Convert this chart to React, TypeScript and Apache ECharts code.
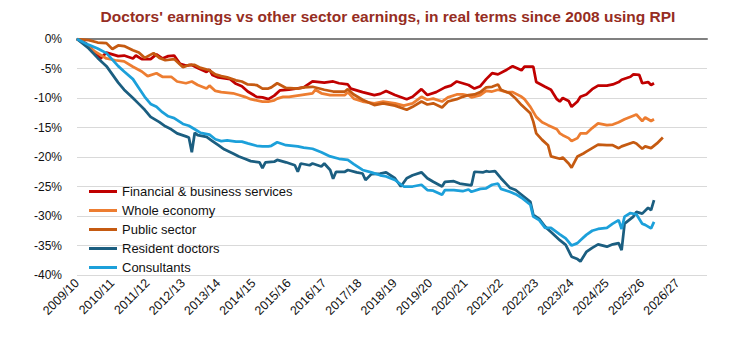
import React, { useEffect, useRef } from "react";
import * as echarts from "echarts";

// x = months since April 2009 (start of 2009/10); y = % change in real earnings since 2008
const fyLabels = [
  "2009/10", "2010/11", "2011/12", "2012/13", "2013/14", "2014/15", "2015/16", "2016/17", "2017/18",
  "2018/19", "2019/20", "2020/21", "2021/22", "2022/23", "2023/24", "2024/25", "2025/26", "2026/27",
];

const seriesNames = [
  "Financial & business services",
  "Whole economy",
  "Public sector",
  "Resident doctors",
  "Consultants",
];

const seriesColors = ["#C00000", "#ED7D31", "#C55A11", "#1B5E80", "#1CA0DA"];

const financialServices: number[][] = [
  [0, 0], [3, -0.7], [6, -2.2], [8, -3.3], [10, -2.3], [12, -2.6], [14, -2.9], [16, -2.8], [19, -3.3], [20, -2.8],
  [22, -3.4], [25, -3.4], [27, -2.6], [29, -3.3], [31, -2.9], [33, -2.8], [35, -4.2], [37, -4.5], [39, -4.4], [41, -4.9],
  [44, -5.6], [45, -5.2], [46, -6.1], [48, -6.5], [52, -6.8], [54, -7.6], [56, -8.0], [58, -8.9], [61, -9.8], [63, -9.9],
  [65, -10.2], [67, -9.6], [69, -8.7], [72, -8.6], [77, -8.2], [80, -7.2], [84, -7.4], [87, -7.2], [89, -7.5], [92, -7.7],
  [93, -8.4], [97, -9.0], [101, -9.5], [103, -9.3], [105, -8.8], [108, -9.5], [112, -10.2], [114, -9.8], [117, -8.5],
  [119, -9.5], [122, -9.0], [125, -8.2], [127, -7.9], [129, -7.2], [131, -7.5], [133, -7.8], [135, -8.4], [137, -8.0],
  [139, -6.8], [141, -5.8], [143, -6.0], [146, -5.2], [148, -4.6], [151, -5.3], [152, -4.7], [155, -4.7], [156, -7.3],
  [159, -8.1], [161, -8.6], [163, -10.2], [164, -10.6], [165, -10.0], [167, -10.5], [168, -11.5], [170, -10.6],
  [171, -9.8], [173, -9.4], [175, -8.5], [177, -7.9], [180, -7.9], [182, -7.7], [184, -7.3], [185, -6.9], [188, -6.4],
  [189, -6.0], [191, -6.1], [192, -7.5], [194, -7.3], [195, -7.8], [196, -7.5],
];

const wholeEconomy: number[][] = [
  [0, 0], [3, -1.0], [6, -2.1], [10, -3.3], [13, -3.6], [16, -3.8], [19, -4.7], [22, -5.5], [24, -6.3], [27, -5.8],
  [29, -6.4], [32, -6.4], [34, -7.2], [37, -7.5], [39, -7.2], [41, -7.8], [44, -8.4], [45, -7.9], [47, -8.8], [49, -9.0],
  [53, -9.2], [55, -9.5], [57, -9.8], [59, -10.2], [63, -10.6], [65, -10.6], [67, -10.4], [68, -10.1], [70, -9.8],
  [72, -9.8], [76, -9.5], [80, -9.2], [81, -8.6], [83, -9.2], [86, -9.5], [91, -9.5], [92, -9.0], [94, -10.1], [97, -10.6],
  [101, -10.9], [104, -10.6], [108, -10.9], [111, -11.3], [114, -10.9], [117, -9.8], [119, -10.3], [121, -10.1],
  [124, -10.6], [126, -9.9], [129, -9.4], [131, -9.4], [133, -9.6], [134, -9.9], [137, -9.5], [139, -8.8], [141, -8.9],
  [143, -8.6], [146, -9.0], [148, -9.0], [151, -9.8], [152, -10.2], [154, -11.5], [156, -13.2], [158, -14.1], [160, -14.6],
  [163, -15.3], [164, -16.0], [165, -16.3], [167, -16.8], [168, -17.3], [170, -16.8], [171, -16.0], [173, -16.0],
  [175, -15.1], [177, -14.3], [180, -14.6], [182, -14.5], [184, -14.1], [186, -13.6], [189, -13.0], [190, -12.8],
  [192, -13.9], [193, -13.3], [195, -13.9], [196, -13.6],
];

const publicSector: number[][] = [
  [0, 0], [4, -0.2], [7, -0.6], [10, -0.7], [12, -1.7], [14, -1.1], [16, -1.2], [19, -1.9], [21, -2.3], [23, -3.2],
  [26, -2.4], [28, -3.2], [30, -3.6], [33, -3.4], [36, -4.8], [38, -4.4], [40, -4.4], [42, -4.9], [45, -5.3], [47, -6.0],
  [49, -6.3], [51, -6.5], [54, -7.0], [56, -7.2], [58, -7.7], [61, -7.8], [63, -8.4], [65, -8.4], [66, -8.2], [68, -7.5],
  [71, -8.3], [75, -8.4], [77, -8.2], [80, -8.1], [84, -8.6], [87, -8.9], [91, -8.9], [92, -8.5], [94, -9.4], [97, -10.3],
  [101, -11.2], [104, -10.9], [108, -11.3], [112, -12.0], [114, -11.5], [117, -10.6], [119, -11.1], [121, -10.9],
  [124, -11.6], [126, -10.6], [129, -10.2], [131, -9.8], [133, -9.5], [135, -9.4], [137, -9.0], [139, -8.2], [141, -8.1],
  [143, -7.7], [144, -8.6], [147, -9.2], [149, -10.1], [151, -11.2], [154, -12.6], [155, -14.0], [156, -16.0],
  [158, -17.1], [160, -18.0], [161, -19.9], [164, -20.3], [165, -20.1], [167, -21.1], [168, -21.8], [170, -19.9],
  [172, -19.4], [173, -19.1], [175, -18.5], [177, -17.9], [180, -18.0], [182, -18.0], [184, -18.5], [185, -18.2],
  [189, -17.5], [190, -17.7], [192, -18.6], [193, -18.2], [195, -18.5], [197, -17.7], [199, -16.7],
];

const residentDoctors: number[][] = [
  [0, 0], [4, -1.6], [7, -3.2], [10, -4.6], [12, -6.0], [14, -7.4], [16, -8.6], [19, -10.0], [21, -11.0], [23, -12.0],
  [25, -13.2], [28, -14.1], [30, -14.8], [32, -15.3], [34, -16.0], [37, -16.5], [38, -16.7], [39, -19.2], [40, -15.9],
  [41, -16.3], [44, -16.6], [46, -17.3], [48, -18.0], [50, -18.7], [53, -19.4], [55, -19.9], [57, -20.3], [59, -20.7],
  [62, -20.9], [63, -21.9], [64, -20.9], [67, -20.8], [68, -20.5], [71, -20.9], [74, -21.4], [75, -22.5], [76, -21.1],
  [79, -21.4], [80, -21.1], [83, -21.6], [84, -21.1], [86, -22.2], [87, -23.7], [88, -22.5], [91, -22.5], [92, -22.2],
  [95, -22.6], [97, -22.8], [98, -23.9], [100, -22.9], [103, -22.8], [105, -22.6], [108, -23.6], [110, -25.0],
  [112, -23.6], [114, -23.1], [117, -22.6], [119, -23.6], [121, -24.2], [124, -25.0], [125, -24.2], [128, -24.1],
  [130, -24.5], [134, -24.8], [135, -22.5], [138, -22.6], [139, -22.4], [140, -22.5], [142, -22.4], [144, -23.6],
  [147, -25.2], [149, -25.6], [151, -26.4], [154, -27.6], [155, -29.8], [157, -30.5], [159, -31.8], [161, -32.7],
  [164, -34.1], [166, -34.9], [168, -36.9], [170, -37.3], [171, -37.7], [173, -36.1], [175, -35.4], [177, -34.8],
  [180, -35.2], [182, -34.8], [184, -34.6], [185, -35.8], [186, -31.3], [189, -30.1], [190, -29.3], [192, -29.6],
  [194, -28.6], [195, -29.0], [196, -27.3],
];

const consultants: number[][] = [
  [0, 0], [4, -1.0], [7, -1.6], [10, -2.4], [12, -3.5], [14, -4.6], [16, -5.5], [19, -6.8], [21, -8.3], [23, -9.8],
  [25, -11.0], [27, -11.5], [29, -12.4], [31, -13.1], [33, -13.4], [36, -14.4], [38, -14.7], [40, -15.3], [42, -15.9],
  [45, -16.2], [47, -17.0], [49, -17.3], [51, -17.2], [54, -17.4], [56, -17.4], [58, -17.7], [61, -18.1], [63, -18.2],
  [65, -18.2], [66, -18.1], [68, -17.5], [71, -18.0], [75, -18.2], [77, -18.4], [80, -18.6], [83, -19.2], [86, -19.9],
  [89, -20.3], [92, -20.5], [94, -21.2], [97, -22.2], [100, -22.6], [103, -23.1], [105, -23.3], [108, -23.9],
  [111, -25.0], [114, -25.0], [117, -24.7], [119, -25.6], [121, -25.7], [124, -26.4], [125, -25.6], [128, -25.6],
  [131, -25.8], [133, -25.5], [134, -25.9], [137, -25.4], [139, -25.3], [141, -24.7], [143, -24.5], [144, -25.4],
  [147, -25.9], [149, -26.3], [151, -26.9], [154, -28.1], [155, -30.1], [157, -30.7], [159, -32.0], [161, -32.0],
  [164, -33.1], [166, -33.8], [168, -35.0], [170, -34.6], [171, -34.1], [173, -33.2], [175, -32.5], [177, -32.2],
  [180, -32.0], [182, -31.3], [184, -30.7], [185, -32.2], [186, -30.1], [188, -29.5], [190, -29.7], [192, -31.3],
  [193, -31.5], [195, -32.1], [196, -31.0],
];

const seriesData = [financialServices, wholeEconomy, publicSector, residentDoctors, consultants];

const X_MAX = 214;
const FONT = "'Liberation Sans', Arial, sans-serif";

export default function App() {
  const ref = useRef<HTMLDivElement>(null);

  useEffect(() => {
    if (!ref.current) return;
    const chart = echarts.init(ref.current, undefined, { renderer: "svg" });
    chart.setOption({
      animation: false,
      backgroundColor: "#ffffff",
      textStyle: { fontFamily: FONT },
      title: {
        text: "Doctors' earnings vs other sector earnings, in real terms since 2008 using RPI",
        left: 388,
        top: 8,
        textAlign: "center",
        padding: 0,
        textStyle: { color: "#962D22", fontSize: 15.5, fontWeight: "bold", fontFamily: FONT },
      },
      legend: {
        orient: "vertical",
        left: 89,
        top: 185,
        padding: 0,
        itemWidth: 28,
        itemHeight: 3,
        itemGap: 6,
        icon: "rect",
        data: seriesNames,
        textStyle: { color: "#111", fontSize: 13, fontFamily: FONT },
      },
      grid: { left: 77, right: 44, top: 39, bottom: 74, containLabel: false },
      xAxis: [
        {
          type: "value",
          min: 0,
          max: X_MAX,
          interval: 12,
          position: "bottom",
          axisLine: { show: false },
          axisTick: { show: false },
          splitLine: { show: false },
          axisLabel: {
            rotate: 45,
            margin: 6,
            color: "#111",
            fontSize: 12.5,
            fontFamily: FONT,
            showMaxLabel: false,
            formatter: (v: number) => (v % 12 === 0 ? fyLabels[v / 12] ?? "" : ""),
          },
        },
        {
          type: "value",
          min: 0,
          max: X_MAX,
          position: "top",
          axisLine: { show: true, lineStyle: { color: "#808080", width: 2 } },
          axisTick: { show: false },
          axisLabel: { show: false },
          splitLine: { show: false },
        },
      ],
      yAxis: {
        type: "value",
        min: -40,
        max: 0,
        interval: 5,
        axisLine: { show: false },
        axisTick: { show: false },
        splitLine: { lineStyle: { color: "#D9D9D9", width: 1 } },
        axisLabel: {
          margin: 15,
          color: "#111",
          fontSize: 12,
          fontFamily: FONT,
          formatter: (v: number) => `${v}%`,
        },
      },
      series: seriesNames.map((name, i) => ({
        name,
        type: "line",
        xAxisIndex: 0,
        data: seriesData[i],
        showSymbol: false,
        symbol: "none",
        color: seriesColors[i],
        lineStyle: { color: seriesColors[i], width: 2.75 },
      })),
    });
    return () => chart.dispose();
  }, []);

  return (
    <div
      ref={ref}
      style={{ position: "fixed", left: 0, top: 0, width: 751, height: 349 }}
    />
  );
}
